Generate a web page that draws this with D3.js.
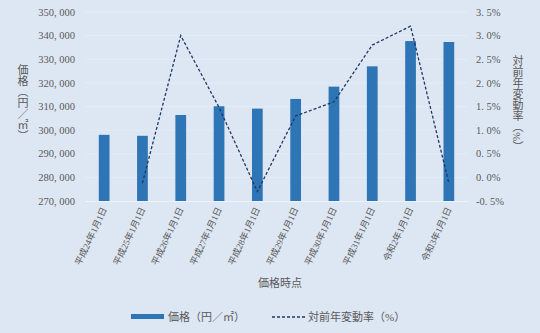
<!DOCTYPE html>
<html>
<head>
<meta charset="utf-8">
<script src="https://cdn.jsdelivr.net/npm/d3@7"></script>
<style>
  body { margin: 0; background: #dde6f3; }
  text { font-family: "Liberation Serif", "Noto Sans CJK JP", serif; }
</style>
</head>
<body>
<script>
const categories = ["平成24年1月1日", "平成25年1月1日", "平成26年1月1日", "平成27年1月1日", "平成28年1月1日",
  "平成29年1月1日", "平成30年1月1日", "平成31年1月1日", "令和2年1月1日", "令和3年1月1日"];
const prices = [298000, 297600, 306400, 310100, 309100, 313200, 318400, 327000, 337700, 337300];
const changes = [null, -0.12, 3.0, 1.48, -0.3, 1.3, 1.6, 2.8, 3.2, -0.12];
const leftTicks = [270000, 280000, 290000, 300000, 310000, 320000, 330000, 340000, 350000];
const rightTicks = [-0.5, 0, 0.5, 1.0, 1.5, 2.0, 2.5, 3.0, 3.5];

const W = 540, H = 333;
const m = { left: 85, right: 468, top: 12, bottom: 201 };

const svg = d3.select("body").append("svg")
  .attr("width", W).attr("height", H);

svg.append("rect").attr("width", W).attr("height", H).attr("fill", "#dde6f3");

const x = d3.scaleBand().domain(categories).range([m.left, m.right]).paddingInner(0.72).paddingOuter(0.36);
const yL = d3.scaleLinear().domain([270000, 350000]).range([m.bottom, m.top]);
const yR = d3.scaleLinear().domain([-0.5, 3.5]).range([m.bottom, m.top]);

// gridlines
svg.append("g").selectAll("line").data(leftTicks.slice(1)).join("line")
  .attr("x1", m.left).attr("x2", m.right)
  .attr("y1", d => yL(d)).attr("y2", d => yL(d))
  .attr("stroke", "#e6edf7").attr("stroke-width", 0.8);

// bars
svg.append("g").selectAll("rect").data(prices).join("rect")
  .attr("x", (d, i) => x(categories[i]))
  .attr("width", x.bandwidth())
  .attr("y", d => yL(d))
  .attr("height", d => yL(270000) - yL(d))
  .attr("fill", "#2e75b6");

// bottom axis line
svg.append("line").attr("x1", m.left).attr("x2", m.right)
  .attr("y1", m.bottom + 0.5).attr("y2", m.bottom + 0.5)
  .attr("stroke", "#eef2f9").attr("stroke-width", 1.2);

// line series
const cx = (i) => x(categories[i]) + x.bandwidth() / 2;
const line = d3.line()
  .defined(d => d != null)
  .x((d, i) => cx(i))
  .y(d => yR(d));
svg.append("path").datum(changes)
  .attr("d", line)
  .attr("fill", "none")
  .attr("stroke", "#203864")
  .attr("stroke-width", 1.3)
  .attr("stroke-dasharray", "3,2");

// left axis
const fmt = d3.format(",");
svg.append("g").selectAll("text").data(leftTicks).join("text")
  .attr("x", 75).attr("y", d => yL(d)).attr("dy", "0.35em")
  .attr("text-anchor", "end")
  .attr("font-size", 10.5).attr("fill", "#595959")
  .text(d => fmt(d).replace(",", ", "));

// right axis
svg.append("g").selectAll("text").data(rightTicks).join("text")
  .attr("x", 476).attr("y", d => yR(d)).attr("dy", "0.35em")
  .attr("text-anchor", "start")
  .attr("font-size", 10.5).attr("fill", "#595959")
  .text(d => d3.format(".1f")(d).replace("−", "-").replace(".", ". ") + "%");

// x labels
svg.append("g").selectAll("text").data(categories).join("text")
  .attr("transform", (d, i) => `translate(${cx(i) + 3},${m.bottom + 8}) rotate(-65)`)
  .attr("text-anchor", "end")
  .attr("font-family", "Noto Sans CJK JP")
  .attr("font-size", 9).attr("fill", "#595959")
  .text(d => d);

// axis titles
svg.append("text").attr("x", 280).attr("y", 287)
  .attr("text-anchor", "middle").attr("font-family", "Noto Sans CJK JP")
  .attr("font-size", 11).attr("fill", "#595959").text("価格時点");

svg.append("text").attr("x", 22).attr("y", 64)
  .attr("writing-mode", "vertical-rl").attr("font-family", "Noto Sans CJK JP")
  .attr("font-size", 11).attr("fill", "#595959").text("価格（円／㎡）");

svg.append("text").attr("x", 517).attr("y", 55)
  .attr("writing-mode", "vertical-rl").attr("font-family", "Noto Sans CJK JP")
  .attr("font-size", 11).attr("fill", "#595959").text("対前年変動率（%）");

// legend
const lg = svg.append("g");
lg.append("rect").attr("x", 131).attr("y", 314).attr("width", 33).attr("height", 5).attr("fill", "#2e75b6");
lg.append("text").attr("x", 168).attr("y", 317).attr("dy", "0.35em")
  .attr("font-family", "Noto Sans CJK JP").attr("font-size", 11).attr("fill", "#595959")
  .text("価格（円／㎡）");
lg.append("line").attr("x1", 272).attr("x2", 305).attr("y1", 317).attr("y2", 317)
  .attr("stroke", "#203864").attr("stroke-width", 1.3).attr("stroke-dasharray", "3,2");
lg.append("text").attr("x", 308).attr("y", 317).attr("dy", "0.35em")
  .attr("font-family", "Noto Sans CJK JP").attr("font-size", 11).attr("fill", "#595959")
  .text("対前年変動率（%）");
</script>
</body>
</html>
